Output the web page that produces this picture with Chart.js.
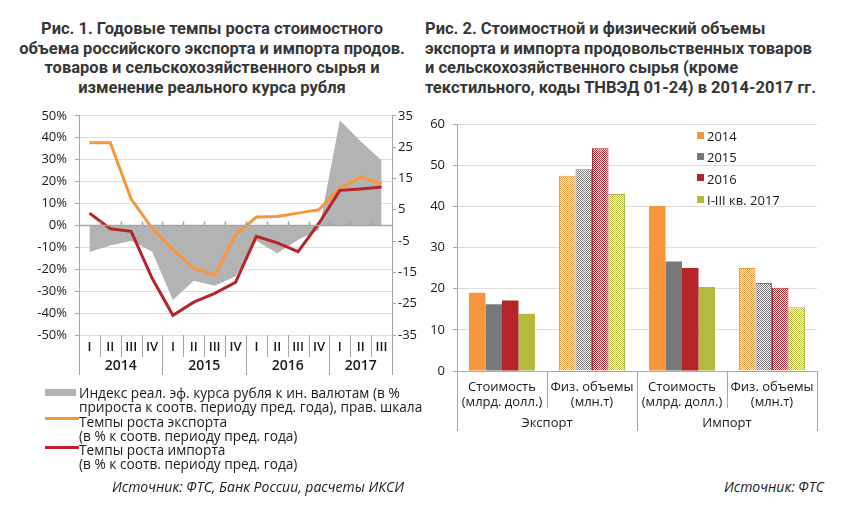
<!DOCTYPE html>
<html>
<head>
<meta charset="utf-8">
<script src="https://cdn.jsdelivr.net/npm/chart.js@4"></script>
<style>
  body { margin: 0; background: #fff; width: 868px; height: 517px; position: relative; overflow: hidden;
         font-family: "Open Sans", sans-serif; color: #1a1a1a; }
  .abs { position: absolute; }
  .title { font-family: Roboto, "Open Sans", sans-serif; font-weight: bold; font-size: 16.5px; line-height: 19.7px; color: #363636; }
  .leg { font-size: 13.7px; line-height: 14.3px; white-space: nowrap; }
  .src { font-style: italic; font-size: 14px; white-space: nowrap; }
  .sq { width: 7px; height: 7px; }
</style>
</head>
<body>
<div class="abs title" style="left:0; width:424px; top:19px; text-align:center;">
  Рис. 1. Годовые темпы роста стоимостного<br>объема российского экспорта и импорта продов.<br>товаров и сельскохозяйственного сырья и<br>изменение реального курса рубля
</div>
<div class="abs title" style="left:425px; top:19px; white-space:nowrap;">
  Рис. 2. Стоимостной и физический объемы<br>экспорта и импорта продовольственных товаров<br>и сельскохозяйственного сырья (кроме<br>текстильного, коды ТНВЭД 01-24) в 2014-2017 гг.
</div>

<canvas id="c1" class="abs" width="420" height="285" style="left:0; top:100px;"></canvas>
<canvas id="c2" class="abs" width="440" height="340" style="left:420px; top:100px;"></canvas>

<!-- legend, figure 1 -->
<div class="abs" style="left:45px; top:389px; width:31px; height:7px; background:#b3b3b3;"></div>
<div class="abs" style="left:45px; top:417px; width:34px; height:3px; background:#f7963c;"></div>
<div class="abs" style="left:45px; top:446px; width:34px; height:3px; background:#b5252b;"></div>
<div class="abs leg" style="left:79px; top:386px;">
  Индекс реал. эф. курса рубля к ин. валютам (в %<br>прироста к соотв. периоду пред. года), прав. шкала<br>Темпы роста экспорта<br>(в % к соотв. периоду пред. года)<br>Темпы роста импорта<br>(в % к соотв. периоду пред. года)
</div>
<div class="abs src" style="left:112px; top:477px;">Источник: ФТС, Банк России, расчеты ИКСИ</div>

<!-- legend, figure 2 -->
<div class="abs sq" style="left:697px; top:132px; background:#f7963c;"></div>
<div class="abs sq" style="left:697px; top:153px; background:#76787a;"></div>
<div class="abs sq" style="left:697px; top:174px; background:#b5252b;"></div>
<div class="abs sq" style="left:697px; top:196px; background:#b5ba3e;"></div>
<div class="abs leg" style="left:707px; top:126px; line-height:21.4px; font-size:13px;">2014<br>2015<br>2016<br>I-III кв. 2017</div>
<div class="abs src" style="left:724px; top:477px;">Источник: ФТС</div>

<script>
// ---- figure 1 data ----
const quarters = ["I","II","III","IV","I","II","III","IV","I","II","III","IV","I","II","III"];
const years = ["2014","2015","2016","2017"];
const yearStarts = [0, 4, 8, 12, 15];
const exportGrowth = [37.7, 37.7, 12, -1.2, -11, -19.5, -22.6, -4.3, 3.8, 4.1, 5.6, 7.2, 16.8, 22, 19];
const importGrowth = [5.6, -1.5, -2.7, -24, -41, -35, -31, -26, -5, -8, -12, 1, 16, 16.6, 17.5];
const reerIndex = [-8.5, -6.4, -4.9, -8.3, -23.8, -17.7, -19.3, -16.3, -4.9, -8.9, -4.6, -1.4, 33.6, 26.9, 20.7];

// ---- figure 2 data ----
const groupLabels = [["Стоимость", "(млрд. долл.)"], ["Физ. объемы", "(млн.т)"], ["Стоимость", "(млрд. долл.)"], ["Физ. объемы", "(млн.т)"]];
const flowLabels = ["Экспорт", "Импорт"];
const seriesNames = ["2014", "2015", "2016", "I-III кв. 2017"];
const v2014 = [19.0, 47.4, 40.1, 25.0];
const v2015 = [16.2, 49.0, 26.6, 21.4];
const v2016 = [17.1, 54.1, 25.0, 20.2];
const v2017 = [13.9, 43.0, 20.4, 15.5];

const axisCol = "#a6a6a6";
const gridCol = "#dedede";
const font = { family: "Open Sans", size: 13 };
Chart.defaults.color = "#1a1a1a";

function fixW(w) { return s => { s.width = w; }; }
function fixH(h) { return s => { s.height = h; }; }

// quarter / year labels under figure 1
const quarterAxis = {
  id: "quarterAxis",
  afterDatasetsDraw(chart) {
    const { ctx, chartArea: a, scales: { x, y } } = chart;
    const half = (x.getPixelForValue(1) - x.getPixelForValue(0)) / 2;
    const edge = i => x.getPixelForValue(i) - half;
    ctx.save();
    ctx.strokeStyle = axisCol;
    ctx.lineWidth = 1.5;
    const y0 = Math.round(y.getPixelForValue(0)) + 0.5;
    ctx.beginPath();
    ctx.moveTo(a.left, y0); ctx.lineTo(a.right, y0);
    for (let i = 1; i < quarters.length; i++) {
      const px = Math.round(edge(i)) + 0.5;
      ctx.moveTo(px, y0); ctx.lineTo(px, y0 - 4);
    }
    ctx.stroke();
    ctx.lineWidth = 1;
    ctx.beginPath();
    for (let i = 0; i <= quarters.length; i++) {
      const px = Math.round(edge(i)) + 0.5;
      const len = yearStarts.includes(i) ? 40 : 22;
      ctx.moveTo(px, a.bottom); ctx.lineTo(px, a.bottom + len);
    }
    ctx.stroke();
    ctx.fillStyle = "#1a1a1a";
    ctx.textAlign = "center";
    ctx.textBaseline = "middle";
    ctx.font = "600 13px 'Open Sans'";
    quarters.forEach((q, i) => ctx.fillText(q, x.getPixelForValue(i), a.bottom + 12));
    ctx.font = "600 14px 'Open Sans'";
    years.forEach((yr, k) => {
      const c = (edge(yearStarts[k]) + edge(yearStarts[k + 1])) / 2;
      ctx.fillText(yr, c, a.bottom + 31);
    });
    ctx.restore();
  }
};

new Chart(document.getElementById("c1"), {
  type: "line",
  data: {
    labels: quarters,
    datasets: [
      { label: "Темпы роста экспорта", data: exportGrowth, borderColor: "#f7963c", borderWidth: 3,
        pointRadius: 0, yAxisID: "y", order: 1, tension: 0 },
      { label: "Темпы роста импорта", data: importGrowth, borderColor: "#b5252b", borderWidth: 3,
        pointRadius: 0, yAxisID: "y", order: 0, tension: 0 },
      { label: "Индекс реал. эф. курса рубля", data: reerIndex, borderWidth: 0, borderColor: "rgba(0,0,0,0)",
        backgroundColor: "#b3b3b3", fill: "origin", pointRadius: 0, yAxisID: "y2", order: 2 }
    ]
  },
  options: {
    responsive: false, animation: false, devicePixelRatio: 1,
    layout: { padding: { top: 15, left: 0, right: 0, bottom: 0 } },
    plugins: { legend: { display: false }, tooltip: { enabled: false } },
    scales: {
      x: { offset: true, ticks: { display: false }, grid: { display: false }, border: { display: false },
           afterFit: fixH(50) },
      y: { min: -50, max: 50, ticks: { stepSize: 10, font, padding: 8, callback: v => v + "%" },
           grid: { color: gridCol, tickLength: 4, tickColor: axisCol }, border: { color: axisCol },
           afterFit: fixW(79) },
      y2: { position: "right", min: -35, max: 35, ticks: { stepSize: 10, font, padding: 2 },
            grid: { drawOnChartArea: false, tickLength: 4, tickColor: axisCol }, border: { color: axisCol },
            afterFit: fixW(28) }
    }
  },
  plugins: [quarterAxis]
});

// ---- figure 2 ----
function hatch(color) {
  const c = document.createElement("canvas");
  c.width = 2; c.height = 2;
  const g = c.getContext("2d");
  g.fillStyle = "#ffffff"; g.fillRect(0, 0, 2, 2);
  g.fillStyle = color; g.fillRect(0, 0, 1, 1); g.fillRect(1, 1, 1, 1);
  return g.createPattern(c, "repeat");
}
const colors = ["#f7963c", "#76787a", "#b5252b", "#b5ba3e"];
const seriesValues = [v2014, v2015, v2016, v2017];

const groupAxis = {
  id: "groupAxis",
  afterDraw(chart) {
    const { ctx, chartArea: a, scales: { x } } = chart;
    const half = (x.getPixelForValue(1) - x.getPixelForValue(0)) / 2;
    const edge = i => x.getPixelForValue(i) - half;
    ctx.save();
    ctx.strokeStyle = axisCol;
    ctx.lineWidth = 1;
    ctx.beginPath();
    for (let i = 0; i <= groupLabels.length; i++) {
      const px = Math.round(edge(i)) + 0.5;
      ctx.moveTo(px, a.bottom); ctx.lineTo(px, a.bottom + (i % 2 === 0 ? 60 : 37));
    }
    ctx.stroke();
    ctx.fillStyle = "#1a1a1a";
    ctx.textAlign = "center";
    ctx.textBaseline = "middle";
    ctx.font = "13px 'Open Sans'";
    groupLabels.forEach((l, i) => {
      const c = x.getPixelForValue(i);
      ctx.fillText(l[0], c, a.bottom + 16);
      ctx.fillText(l[1], c, a.bottom + 31);
    });
    flowLabels.forEach((l, k) => {
      ctx.fillText(l, (edge(2 * k) + edge(2 * k + 2)) / 2, a.bottom + 52);
    });
    ctx.restore();
  }
};

new Chart(document.getElementById("c2"), {
  type: "bar",
  data: {
    labels: groupLabels.map(l => l.join(" ")),
    datasets: seriesValues.map((vals, k) => ({
      label: seriesNames[k],
      data: vals,
      backgroundColor: vals.map((v, i) => i % 2 ? hatch(colors[k]) : colors[k]),
      borderColor: colors[k],
      borderWidth: vals.map((v, i) => i % 2 ? 1 : 0),
      categoryPercentage: 0.733,
      barPercentage: 1.0
    }))
  },
  options: {
    responsive: false, animation: false, devicePixelRatio: 1,
    layout: { padding: { top: 24, left: 0, right: 43, bottom: 0 } },
    plugins: { legend: { display: false }, tooltip: { enabled: false } },
    scales: {
      x: { ticks: { display: false }, grid: { display: false }, border: { color: axisCol },
           afterFit: fixH(69) },
      y: { min: 0, max: 60, ticks: { stepSize: 10, font, padding: 8 },
           grid: { color: gridCol, tickLength: 4, tickColor: axisCol }, border: { color: axisCol },
           afterFit: fixW(37) }
    }
  },
  plugins: [groupAxis]
});
</script>
</body>
</html>
